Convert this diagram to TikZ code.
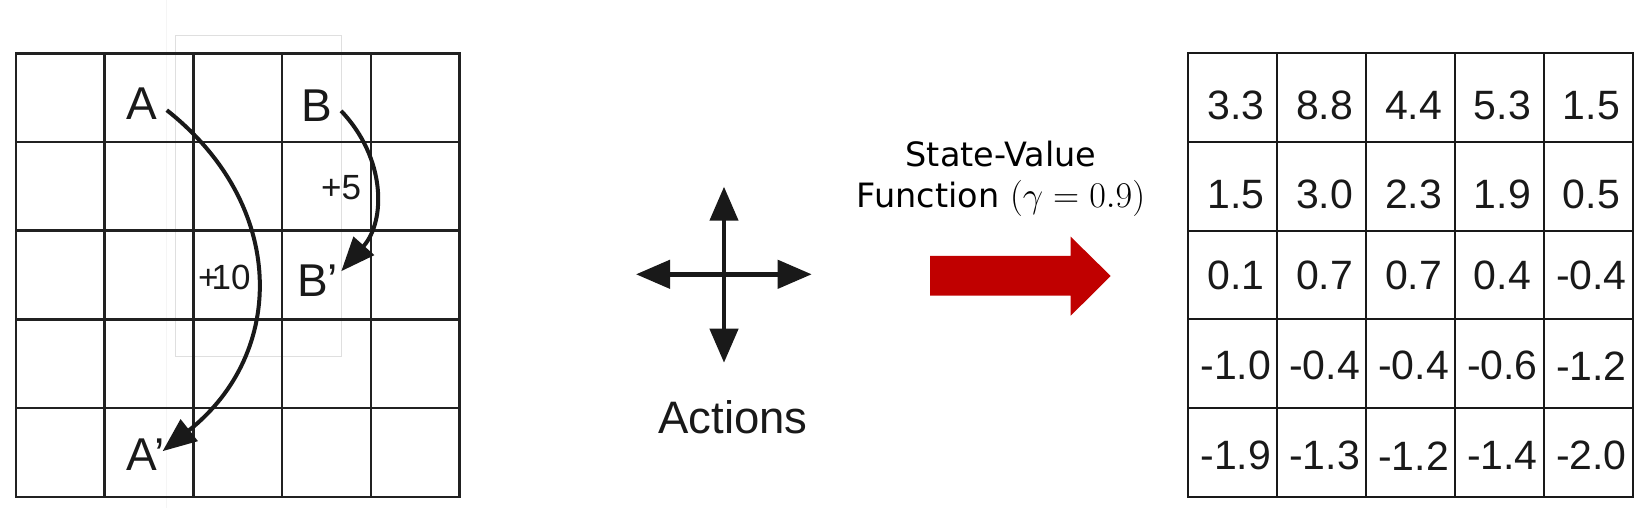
\documentclass[tikz,border=0pt]{standalone}
\usepackage{fix-cm}
\usepackage[no-math]{fontspec}
\setmainfont{Liberation Sans}
\newfontfamily\dejavu{DejaVu Sans}
\usepackage{tikz}
\usetikzlibrary{arrows.meta}
\definecolor{darkred}{HTML}{C00000}
\tikzstyle{cell} = [rectangle, draw=black!87, line width=2.5bp, minimum size=88.7bp, inner sep=0pt]
\tikzstyle{vcell} = [rectangle, draw=black!90, line width=2bp, minimum size=88.8bp, inner sep=0pt]
\tikzstyle{letter} = [anchor=base west, inner sep=0pt, text=black!90, font=\fontsize{46bp}{50bp}\selectfont]
\tikzstyle{reward} = [anchor=base west, inner sep=0pt, text=black!90, font=\fontsize{35bp}{40bp}\selectfont]
\tikzstyle{value} = [inner sep=0pt, text=black!90, font=\fontsize{41bp}{45bp}\selectfont]
\tikzstyle{arc} = [line width=4bp, draw=black!90, -{Triangle[length=34bp,width=27bp]}]
\tikzstyle{move} = [line width=4.5bp, draw=black!90, {Triangle[length=34bp,width=28bp]}-{Triangle[length=34bp,width=28bp]}]

\begin{document}
\begin{tikzpicture}[x=1bp, y=-1bp]
    \useasboundingbox (0,0) rectangle (1649,527);
    % faint traces
    \draw [gray!8, line width=1.5bp] (166.7,0) -- (166.7,508);
    \draw [gray!25, line width=1bp] (175.7,36) rectangle (341,356);

    % grid world
    \foreach \r in {1,...,5}
        \foreach \c in {1,...,5}
            \node (g-\r-\c) [cell] at ({16+88.7*(\c-0.5)}, {53.3+88.7*(\r-0.5)}) {};

    \node (A) [letter] at (126.7,120) {A};
    \node (B) [letter] at (301,121.7) {B};
    \node (Ap) [letter] at (126.7,470) {A’};
    \node (Bp) [letter] at (297,297) {B’};
    \node (r10) [reward] at (198,290) {+\kern-0.2em10};
    \node (r5) [reward] at (321,200) {+5};

    \draw [arc] ([shift={(9,6)}]A.east) .. controls (287,205) and (287,353) .. ([shift={(-2,-3)}]Ap.east);
    \draw [arc] ([shift={(9,5)}]B.east) .. controls (386,158) and (386,221) .. ([shift={(3,-10)}]Bp.east);

    % actions
    \coordinate (up) at (724,186.7);
    \coordinate (down) at (724,362.7);
    \coordinate (left) at (636,274.3);
    \coordinate (right) at (811.7,274.3);
    \draw [move] (left) -- (right);
    \draw [move] (up) -- (down);
    \node (actions) [anchor=base, inner sep=0pt, text=black!90, font=\fontsize{45.5bp}{50bp}\selectfont] at (733,433) {Actions};

    % state-value arrow
    \node (svf) [anchor=base, align=center, inner sep=0pt, font=\dejavu\fontsize{33.5bp}{40.6bp}\selectfont] at (1001,207.3) {State-Value\\Function $\mathsurround=0pt\scalebox{1.08}{$(\gamma = 0.9)$}$};
    \fill [darkred] (930,256) -- (1070.7,256) -- (1070.7,236.7) -- (1110.7,276) -- (1070.7,315.7) -- (1070.7,295.7) -- (930,295.7) -- cycle;

    % values
    \foreach \row [count=\r] in {{3.3,8.8,4.4,5.3,1.5},{1.5,3.0,2.3,1.9,0.5},{0.1,0.7,0.7,0.4,-0.4},{-1.0,-0.4,-0.4,-0.6,-1.2},{-1.9,-1.3,-1.2,-1.4,-2.0}} {
        \pgfmathsetmacro{\dy}{{8,8.4,0,2,3.3}[\r-1]}
        \foreach \v [count=\c] in \row {
            \node (v-\r-\c) [vcell] at ({1188.3+88.9*(\c-0.5)}, {53.3+88.7*(\r-0.5)}) {};
            \node (n-\r-\c) [value] at ([shift={(3,\dy)}]v-\r-\c.center) {\v};
        }
    }
\end{tikzpicture}
\end{document}
